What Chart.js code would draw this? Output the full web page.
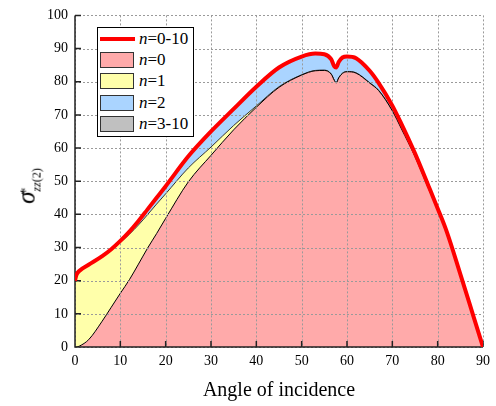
<!DOCTYPE html>
<html>
<head>
<meta charset="utf-8">
<script src="https://cdn.jsdelivr.net/npm/chart.js@4.4.1/dist/chart.umd.min.js"></script>
<style>
    body { margin: 0; background: #fff; }
    #wrap { position: relative; width: 496px; height: 406px; font-family: 'Liberation Serif', 'DejaVu Serif', serif; color: #000; }
    #legend { position: absolute; left: 97px; top: 27px; width: 95px; height: 108px; border: 1px solid #000; background: #fff; }
    .row { position: absolute; left: 0; width: 95px; height: 22px; }
    .swatch { position: absolute; left: 2px; top: 3px; width: 34px; height: 16px; box-sizing: border-box; border: 1px solid #333; }
    .redline { position: absolute; left: 2px; top: 9px; width: 35px; height: 4px; background: #ff0000; }
    .txt { position: absolute; left: 41px; top: 0; line-height: 22px; font-size: 17px; white-space: nowrap; }
    #ylab { position: absolute; left: 28px; top: 186px; transform: translate(-50%, -50%) rotate(-90deg); white-space: nowrap; line-height: 1; }
</style>
</head>
<body>
<div id="wrap">
    <canvas id="chart" width="496" height="406"></canvas>
    <div id="legend">
        <div class="row" style="top:0px"><div class="redline"></div><div class="txt"><i>n</i>=0-10</div></div>
        <div class="row" style="top:21px"><div class="swatch" style="background:#ffaaaa"></div><div class="txt"><i>n</i>=0</div></div>
        <div class="row" style="top:42px"><div class="swatch" style="background:#ffffaa"></div><div class="txt"><i>n</i>=1</div></div>
        <div class="row" style="top:64px"><div class="swatch" style="background:#aad4ff"></div><div class="txt"><i>n</i>=2</div></div>
        <div class="row" style="top:85px"><div class="swatch" style="background:#c0c0c0"></div><div class="txt"><i>n</i>=3-10</div></div>
    </div>
    <div id="ylab"><i style="font-size:25px">σ</i><span style="display:inline-block; vertical-align:-6px; text-align:left"><span style="display:block; font-size:14px; height:11px; margin-left:-3px">*</span><span style="display:block; font-size:12px"><i>zz</i>(2)</span></span></div>
</div>
<script>
// angle of incidence (degrees)
const angles = [0, 0.3, 1, 3, 6, 8, 10, 12, 14, 16, 18, 20, 25, 30, 35, 40, 45, 50, 53, 55,
    56.5, 57.2, 57.6, 58.2, 59, 60, 62, 65, 67, 70, 72, 75, 78, 80, 82, 85, 88, 90]
// cumulative tops
const totalTop = [20, 21.7, 23, 24.8, 27.4, 29.5, 32, 34.8, 38, 41.5, 45, 48.5, 57.5, 65, 71.8, 78.5, 84.3, 87.6, 88.5, 88.3,
    86.8, 84.6, 84.3, 86, 87.3, 87.6, 87.1, 83.3, 79.6, 72.8, 67.3, 58.4, 48.5, 41.8, 34.8, 22, 8.8, 0]
const n0Top = [0, 0, 0.3, 2.2, 7.8, 12, 16.2, 20.3, 25, 29.8, 34.2, 38.8, 49.8, 57.8, 65.5, 72.3, 78.3, 82, 83.3, 83.4,
    82.3, 80.4, 79.6, 81.2, 82.5, 83, 82.6, 79.6, 77.3, 71.2, 65.8, 57.4, 47.7, 41.3, 34.5, 21.8, 8.7, 0]
const n1Top = [20, 21.7, 23, 24.7, 27.2, 29.2, 31.5, 34, 36.8, 39.9, 43.1, 46.2, 54, 60.3, 66.8, 72.7, 78.5, 82.1, 83.4, 83.5,
    82.4, 80.5, 79.7, 81.3, 82.6, 83.1, 82.7, 79.7, 77.4, 71.3, 65.9, 57.5, 47.8, 41.4, 34.6, 21.9, 8.7, 0]
const n2Top = [20, 21.7, 23, 24.8, 27.4, 29.4, 31.9, 34.6, 37.8, 41.3, 44.8, 48.3, 57.3, 64.8, 71.6, 78.3, 84.1, 87.4, 88.3, 88.1,
    86.6, 84.4, 84.1, 85.8, 87.1, 87.4, 86.9, 83.1, 79.4, 72.6, 67.2, 58.3, 48.4, 41.7, 34.7, 22, 8.8, 0]
const xTicks = [0, 10, 20, 30, 40, 50, 60, 70, 80, 90]
const yTicks = [0, 10, 20, 30, 40, 50, 60, 70, 80, 90, 100]

const pts = arr => angles.map((a, i) => ({ x: a, y: arr[i] }))

// grid, axes and inward ticks, drawn just before the red line
const frame = {
    id: 'frame',
    beforeDatasetDraw(chart, args) {
        if (args.index !== 0) return
        const { ctx, chartArea: ca, scales: { x, y } } = chart
        ctx.save()
        ctx.strokeStyle = '#9a9a9a'
        ctx.lineWidth = 1
        ctx.setLineDash([2, 2])
        ctx.beginPath()
        xTicks.forEach(v => { const p = Math.round(x.getPixelForValue(v)) + 0.5; ctx.moveTo(p, ca.top); ctx.lineTo(p, ca.bottom) })
        yTicks.forEach(v => { const p = Math.round(y.getPixelForValue(v)) + 0.5; ctx.moveTo(ca.left, p); ctx.lineTo(ca.right, p) })
        ctx.stroke()
        ctx.setLineDash([])
        ctx.strokeStyle = '#222'
        ctx.lineWidth = 1.5
        ctx.beginPath()
        ctx.moveTo(ca.left, ca.top); ctx.lineTo(ca.left, ca.bottom); ctx.lineTo(ca.right, ca.bottom)
        xTicks.forEach(v => { const p = x.getPixelForValue(v); ctx.moveTo(p, ca.bottom); ctx.lineTo(p, ca.bottom - 6) })
        yTicks.forEach(v => { const p = y.getPixelForValue(v); ctx.moveTo(ca.left, p); ctx.lineTo(ca.left + 6, p) })
        ctx.stroke()
        ctx.restore()
    }
}

Chart.defaults.font.family = "'Liberation Serif', 'DejaVu Serif', serif"
Chart.defaults.color = '#000'

new Chart(document.getElementById('chart'), {
    type: 'line',
    data: {
        datasets: [
            { label: 'n=0-10', data: pts(totalTop), borderColor: '#ff0000', borderWidth: 4, fill: false },
            { label: 'n=0', data: pts(n0Top), borderColor: '#000', borderWidth: 1, backgroundColor: '#ffaaaa', fill: 'origin' },
            { label: 'n=1', data: pts(n1Top), borderColor: '#333', borderWidth: 1, backgroundColor: '#ffffaa', fill: '-1' },
            { label: 'n=2', data: pts(n2Top), borderColor: '#aad4ff', borderWidth: 0, backgroundColor: '#aad4ff', fill: '-1' },
            { label: 'n=3-10', data: pts(totalTop), borderColor: '#c0c0c0', borderWidth: 0, backgroundColor: '#c0c0c0', fill: '-1' }
        ]
    },
    options: {
        responsive: false,
        animation: false,
        cubicInterpolationMode: 'monotone',
        elements: { point: { radius: 0 } },
        layout: { padding: { top: 15, right: 12, left: 0, bottom: 0 } },
        plugins: { legend: { display: false }, tooltip: { enabled: false } },
        scales: {
            x: {
                type: 'linear',
                min: 0,
                max: 90,
                grid: { display: false, drawTicks: false },
                border: { display: false },
                ticks: { stepSize: 10, padding: 6, font: { size: 14 }, maxRotation: 0 },
                title: { display: true, text: 'Angle of incidence', font: { size: 20 }, padding: { top: 4, bottom: 3 } },
                afterFit: scale => { scale.height = 59 }
            },
            y: {
                min: 0,
                max: 100,
                grid: { display: false, drawTicks: false },
                border: { display: false },
                ticks: { stepSize: 10, padding: 7, font: { size: 14 } },
                afterFit: scale => { scale.width = 75 }
            }
        }
    },
    plugins: [frame]
})
</script>
</body>
</html>
